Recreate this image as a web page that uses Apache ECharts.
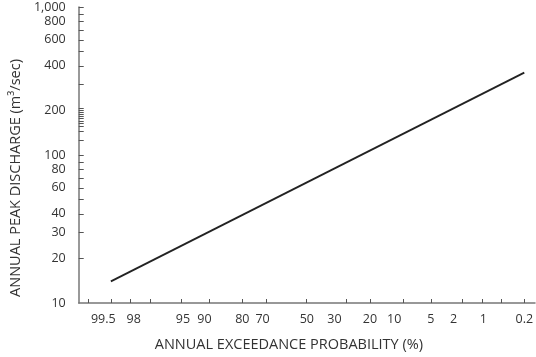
<!DOCTYPE html>
<html>
<head>
<meta charset="utf-8">
<script src="https://cdn.jsdelivr.net/npm/echarts@6/dist/echarts.min.js"></script>
<style>
  html, body { margin: 0; padding: 0; background: #fff; }
  #chart { width: 536px; height: 357px; }
</style>
</head>
<body>
<div id="chart"></div>
<script>
// ---- Data ----
// annual exceedance probability (%) of the line's end points and discharge (m3/sec)
const lineProb = [99.5, 0.2];
const lineDischarge = [14, 360];

// x-axis (normal probability scale) tick positions and labels, in %
const probTicks = [99.8, 99.5, 99, 98, 95, 90, 80, 70, 50, 30, 20, 10, 5, 2, 1, 0.5, 0.2];
const probLabels = [99.5, 98, 95, 90, 80, 70, 50, 30, 20, 10, 5, 2, 1, 0.2];
// small label shifts as drawn in the original figure (in standard-normal units)
const probLabelShift = [-0.1, -0.22, 0.02, -0.06, 0, -0.05, 0.01, -0.15, 0, -0.12, 0, -0.11, 0.01, 0];

// y-axis (log) labels and minor tick values
const yLabels = [10, 20, 30, 40, 60, 80, 100, 200, 400, 600, 800, 1000];
const yTicks = [20, 30, 40, 50, 60, 70, 80, 90, 100, 125, 145, 157, 164,
  170, 176, 182, 188, 194, 200, 206,
  300, 400, 500, 600, 700, 800, 900, 1000];

// ---- Helpers ----
function normInv(p) {
  const a = [-3.969683028665376e+01, 2.209460984245205e+02, -2.759285104469687e+02, 1.383577518672690e+02, -3.066479806614716e+01, 2.506628277459239e+00];
  const b = [-5.447609879822406e+01, 1.615858368580409e+02, -1.556989798598866e+02, 6.680131188771011e+01, -1.328068155288572e+01];
  const c = [-7.784894002430293e-03, -3.223964580411365e-01, -2.400758277161838e+00, -2.549732539343734e+00, 4.374664141464968e+00, 2.938163982698783e+00];
  const d = [7.784695709041462e-03, 3.224671290700398e-01, 2.445134137142996e+00, 3.754408661907416e+00];
  const pl = 0.02425, ph = 1 - pl;
  let q, r;
  if (p < pl) {
    q = Math.sqrt(-2 * Math.log(p));
    return (((((c[0]*q+c[1])*q+c[2])*q+c[3])*q+c[4])*q+c[5]) / ((((d[0]*q+d[1])*q+d[2])*q+d[3])*q+1);
  }
  if (p <= ph) {
    q = p - 0.5; r = q * q;
    return (((((a[0]*r+a[1])*r+a[2])*r+a[3])*r+a[4])*r+a[5])*q / (((((b[0]*r+b[1])*r+b[2])*r+b[3])*r+b[4])*r+1);
  }
  q = Math.sqrt(-2 * Math.log(1 - p));
  return -(((((c[0]*q+c[1])*q+c[2])*q+c[3])*q+c[4])*q+c[5]) / ((((d[0]*q+d[1])*q+d[2])*q+d[3])*q+1);
}
const zOf = p => normInv(1 - p / 100);
const lg = v => Math.log10(v);

const labelPos = probLabels.map((p, i) => zOf(p) + probLabelShift[i]);
const textColor = '#333';
const axisColor = '#777';
const font = 'Open Sans';

const chart = echarts.init(document.getElementById('chart'));
chart.setOption({
  animation: false,
  backgroundColor: '#fff',
  grid: { left: 76, right: 0, top: 7, bottom: 49, containLabel: false },
  xAxis: {
    type: 'value',
    min: -3.0, max: 3.02,
    name: 'ANNUAL EXCEEDANCE PROBABILITY (%)',
    nameLocation: 'middle',
    nameGap: 34,
    nameTextStyle: { color: textColor, fontFamily: font, fontSize: 14.5, padding: [0, 36, 0, 0] },
    axisLine: { show: true, onZero: false, lineStyle: { color: axisColor, width: 1.5 } },
    axisTick: { show: true, inside: true, length: 4, customValues: probTicks.map(zOf), lineStyle: { color: '#555', width: 1 } },
    axisLabel: {
      show: true, margin: 10, color: textColor, fontFamily: font, fontSize: 12.5,
      customValues: labelPos,
      formatter: v => {
        let best = 0, bd = Infinity;
        labelPos.forEach((z, i) => { const dd = Math.abs(z - v); if (dd < bd) { bd = dd; best = i; } });
        return String(probLabels[best]);
      }
    },
    splitLine: { show: false }
  },
  yAxis: {
    type: 'value',
    min: 1, max: 3,
    name: 'ANNUAL PEAK DISCHARGE (m³/sec)',
    nameLocation: 'middle',
    nameGap: 42,
    nameTextStyle: { color: textColor, fontFamily: font, fontSize: 14.5, padding: [0, 46, 0, 0] },
    axisLine: { show: true, onZero: false, lineStyle: { color: axisColor, width: 1.5 } },
    axisTick: { show: true, inside: true, length: 5, customValues: yTicks.map(lg), lineStyle: { color: '#555', width: 1 } },
    axisLabel: {
      show: true, margin: 13, color: textColor, fontFamily: font, fontSize: 12.5,
      padding: [4, 0, 0, 0],
      customValues: yLabels.map(lg),
      formatter: v => Math.round(Math.pow(10, v)).toLocaleString('en-US')
    },
    splitLine: { show: false }
  },
  series: [{
    type: 'line',
    data: lineProb.map((p, i) => [zOf(p), lg(lineDischarge[i])]),
    showSymbol: false,
    lineStyle: { color: '#222', width: 1.8 }
  }]
});
</script>
</body>
</html>
